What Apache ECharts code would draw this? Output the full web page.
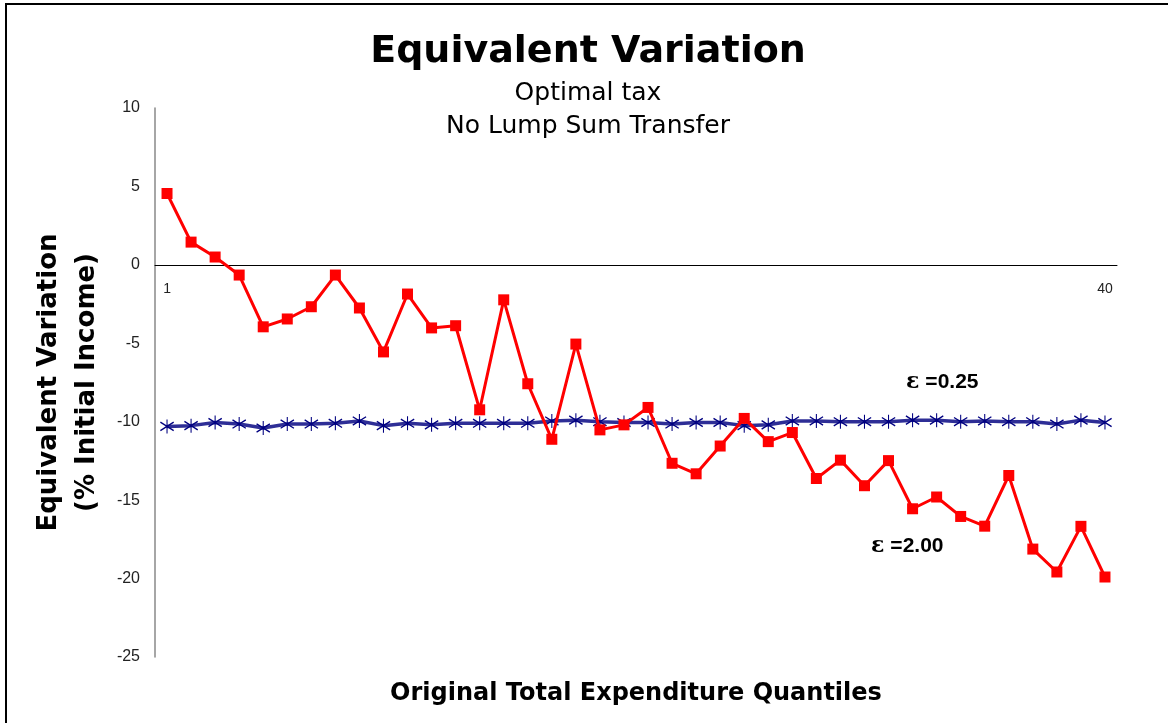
<!DOCTYPE html>
<html>
<head>
<meta charset="utf-8">
<script src="https://cdn.jsdelivr.net/npm/echarts@6/dist/echarts.min.js"></script>
<style>
	html, body { margin: 0; padding: 0; background: #fff; }
	#main { width: 1168px; height: 723px; }
</style>
</head>
<body>
<div id="main"></div>
<script>
// quantiles 1..40
var quantiles = [];
for(var q = 1; q <= 40; q++) {
	quantiles.push(String(q));
}
// y axis ticks
var yMin = -25;
var yMax = 10;
var yStep = 5;

// ε = 2.00 (red)
var evHigh = [4.55, 1.45, 0.5, -0.65, -3.95, -3.45, -2.67, -0.65, -2.75, -5.55,
	-1.86, -4.02, -3.88, -9.24, -2.23, -7.58, -11.12, -5.05, -10.52, -10.2,
	-9.09, -12.65, -13.32, -11.55, -9.79, -11.27, -10.69, -13.62, -12.45, -14.08,
	-12.48, -15.55, -14.8, -16.04, -16.66, -13.43, -18.12, -19.58, -16.67, -19.9];
// ε = 0.25 (blue)
var evLow = [-10.3, -10.25, -10.05, -10.15, -10.4, -10.15, -10.15, -10.1, -9.95, -10.25,
	-10.1, -10.2, -10.1, -10.1, -10.1, -10.1, -9.95, -9.9, -10.0, -10.05,
	-10.05, -10.15, -10.05, -10.05, -10.25, -10.2, -9.95, -9.95, -10.0, -10.0,
	-10.0, -9.9, -9.9, -10.0, -9.95, -10.0, -10.0, -10.15, -9.9, -10.05];

var asterisk = 'path://M46,0L54,0L54,100L46,100Z' +
	'M2.6,15.7L102.6,75.7L97.4,84.3L-2.6,24.3Z' +
	'M-2.6,75.7L97.4,15.7L102.6,24.3L2.6,84.3Z';

var gridTop = 108;
var gridBottom = 66;
var plotHeight = 723 - gridTop - gridBottom;
// move the category axis up to the zero line (labels follow it)
var zeroOffset = -plotHeight * (0 - yMin) / (yMax - yMin);

var epsRich = {
	e: { fontFamily: 'DejaVu Serif', fontWeight: 'bold', fontSize: 22, color: '#000', padding: [0, 6, 0, 0] },
	n: { fontFamily: 'Liberation Sans, Arial', fontWeight: 'bold', fontSize: 21, color: '#000' }
};

var myChart = echarts.init(document.getElementById("main"));
var option = {
	backgroundColor: '#fff',
	animation: false,
	grid: {
		left: 155,
		right: 51,
		top: gridTop,
		bottom: gridBottom,
		containLabel: false,
		outerBoundsMode: 'none'
	},
	xAxis: {
		type: 'category',
		data: quantiles,
		boundaryGap: true,
		offset: zeroOffset,
		axisLine: {
			show: true,
			onZero: false,
			lineStyle: { color: '#000', width: 1 }
		},
		axisTick: { show: false },
		axisLabel: {
			interval: function(index) {
				return index == 0 || index == quantiles.length - 1;
			},
			margin: 17,
			color: '#222',
			fontFamily: 'Liberation Sans, Arial',
			fontSize: 14
		},
		splitLine: { show: false }
	},
	yAxis: {
		type: 'value',
		min: yMin,
		max: yMax,
		interval: yStep,
		name: 'Equivalent Variation\n(% Initial Income)',
		nameLocation: 'middle',
		nameGap: 48,
		nameTextStyle: {
			color: '#000',
			fontFamily: 'DejaVu Sans',
			fontWeight: 'bold',
			fontSize: 26,
			lineHeight: 38
		},
		axisLine: {
			show: true,
			lineStyle: { color: '#888', width: 1.5 }
		},
		axisTick: { show: false },
		axisLabel: {
			margin: 15,
			color: '#222',
			fontFamily: 'Liberation Sans, Arial',
			fontSize: 16
		},
		splitLine: { show: false }
	},
	series: [{
		name: 'eps 0.25',
		type: 'line',
		data: evLow,
		symbol: asterisk,
		symbolSize: 14,
		itemStyle: { color: '#000080' },
		lineStyle: { color: '#2e2e96', width: 3.5 },
		z: 2
	}, {
		name: 'eps 2.00',
		type: 'line',
		data: evHigh,
		symbol: 'rect',
		symbolSize: 11,
		itemStyle: { color: '#ff0000' },
		lineStyle: { color: '#ff0000', width: 3 },
		z: 3
	}],
	graphic: [{
		type: 'rect',
		shape: { x: 6, y: 4, width: 1300, height: 900 },
		style: { fill: 'none', stroke: '#000', lineWidth: 2 },
		silent: true
	}, {
		type: 'text',
		x: 588, y: 52,
		style: {
			text: 'Equivalent Variation',
			fill: '#000',
			font: 'bold 38px "DejaVu Sans"',
			align: 'center',
			verticalAlign: 'middle'
		}
	}, {
		type: 'text',
		x: 588, y: 93,
		style: {
			text: 'Optimal tax',
			fill: '#000',
			font: '25px "DejaVu Sans"',
			align: 'center',
			verticalAlign: 'middle'
		}
	}, {
		type: 'text',
		x: 588, y: 126,
		style: {
			text: 'No Lump Sum Transfer',
			fill: '#000',
			font: '25px "DejaVu Sans"',
			align: 'center',
			verticalAlign: 'middle'
		}
	}, {
		type: 'text',
		x: 636, y: 694,
		style: {
			text: 'Original Total Expenditure Quantiles',
			fill: '#000',
			font: 'bold 24px "DejaVu Sans"',
			align: 'center',
			verticalAlign: 'middle'
		}
	}, {
		type: 'text',
		x: 906, y: 382,
		style: {
			text: '{e|ε}{n|=0.25}',
			rich: epsRich,
			align: 'left',
			verticalAlign: 'middle'
		}
	}, {
		type: 'text',
		x: 871, y: 546,
		style: {
			text: '{e|ε}{n|=2.00}',
			rich: epsRich,
			align: 'left',
			verticalAlign: 'middle'
		}
	}]
};
myChart.setOption(option);
</script>
</body>
</html>
